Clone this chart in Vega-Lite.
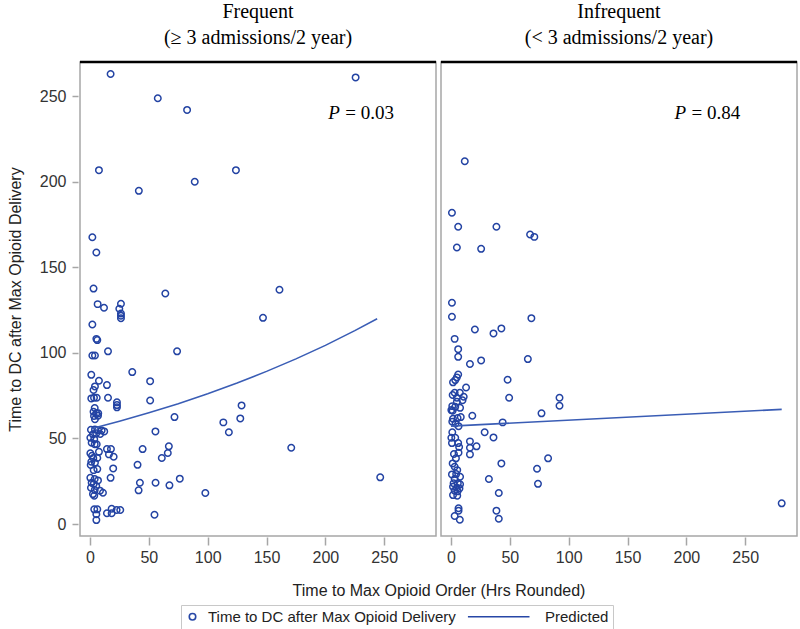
{
"$schema": "https://vega.github.io/schema/vega-lite/v6.json",
"padding": {"left": 7, "top": 2, "right": 3, "bottom": 0},
"data": {"values": [
{"g":"F","k":"obs","x":17.5,"y":263},{"g":"F","k":"obs","x":57.6,"y":248.8},{"g":"F","k":"obs","x":82.5,"y":242},{"g":"F","k":"obs","x":7.6,"y":206.8},{"g":"F","k":"obs","x":124,"y":206.8},{"g":"F","k":"obs","x":89,"y":200},{"g":"F","k":"obs","x":41.5,"y":194.7},{"g":"F","k":"obs","x":2,"y":167.6},{"g":"F","k":"obs","x":5.4,"y":158.7},{"g":"F","k":"obs","x":3,"y":137.6},{"g":"F","k":"obs","x":64,"y":134.7},{"g":"F","k":"obs","x":225.7,"y":261},{"g":"F","k":"obs","x":161,"y":136.9},{"g":"F","k":"obs","x":147,"y":120.5},{"g":"F","k":"obs","x":171,"y":44.6},{"g":"F","k":"obs","x":246.6,"y":27.3},{"g":"F","k":"obs","x":6.5,"y":128.5},{"g":"F","k":"obs","x":11.9,"y":126.4},{"g":"F","k":"obs","x":26.3,"y":128.7},{"g":"F","k":"obs","x":24.9,"y":125.8},{"g":"F","k":"obs","x":26.3,"y":123},{"g":"F","k":"obs","x":26.3,"y":121.7},{"g":"F","k":"obs","x":26.3,"y":120.3},{"g":"F","k":"obs","x":2,"y":116.6},{"g":"F","k":"obs","x":5.4,"y":108.2},{"g":"F","k":"obs","x":6.2,"y":107.5},{"g":"F","k":"obs","x":2,"y":98.5},{"g":"F","k":"obs","x":4.2,"y":98.5},{"g":"F","k":"obs","x":15.3,"y":100.9},{"g":"F","k":"obs","x":74,"y":100.9},{"g":"F","k":"obs","x":35.9,"y":88.8},{"g":"F","k":"obs","x":1.1,"y":87.2},{"g":"F","k":"obs","x":51.1,"y":83.5},{"g":"F","k":"obs","x":7.6,"y":83.7},{"g":"F","k":"obs","x":14.4,"y":81.2},{"g":"F","k":"obs","x":4.2,"y":80.4},{"g":"F","k":"obs","x":3,"y":78.3},{"g":"F","k":"obs","x":1.1,"y":73.4},{"g":"F","k":"obs","x":3.4,"y":73.8},{"g":"F","k":"obs","x":5.7,"y":73.8},{"g":"F","k":"obs","x":15.3,"y":73.8},{"g":"F","k":"obs","x":51.1,"y":72.2},{"g":"F","k":"obs","x":22.9,"y":71.1},{"g":"F","k":"obs","x":22.9,"y":69.5},{"g":"F","k":"obs","x":22.9,"y":68.2},{"g":"F","k":"obs","x":4,"y":67.8},{"g":"F","k":"obs","x":3,"y":65.6},{"g":"F","k":"obs","x":5.4,"y":64.7},{"g":"F","k":"obs","x":7,"y":64.7},{"g":"F","k":"obs","x":3.4,"y":63.1},{"g":"F","k":"obs","x":6.8,"y":63.3},{"g":"F","k":"obs","x":4.2,"y":61.2},{"g":"F","k":"obs","x":71.8,"y":62.5},{"g":"F","k":"obs","x":128.8,"y":69.3},{"g":"F","k":"obs","x":127.7,"y":61.7},{"g":"F","k":"obs","x":113.3,"y":59.4},{"g":"F","k":"obs","x":118,"y":53.6},{"g":"F","k":"obs","x":55.6,"y":54.1},{"g":"F","k":"obs","x":0.8,"y":55.1},{"g":"F","k":"obs","x":4.2,"y":55.3},{"g":"F","k":"obs","x":6.8,"y":54.9},{"g":"F","k":"obs","x":9.9,"y":54.7},{"g":"F","k":"obs","x":12.1,"y":54.1},{"g":"F","k":"obs","x":8.7,"y":52.6},{"g":"F","k":"obs","x":5.3,"y":53},{"g":"F","k":"obs","x":2.5,"y":52.4},{"g":"F","k":"obs","x":0.3,"y":50.4},{"g":"F","k":"obs","x":3.6,"y":49.6},{"g":"F","k":"obs","x":1.4,"y":47.5},{"g":"F","k":"obs","x":4,"y":46.6},{"g":"F","k":"obs","x":5.7,"y":46.6},{"g":"F","k":"obs","x":14.4,"y":43.8},{"g":"F","k":"obs","x":17.8,"y":43.8},{"g":"F","k":"obs","x":16.1,"y":40.7},{"g":"F","k":"obs","x":20.1,"y":39.3},{"g":"F","k":"obs","x":7.6,"y":42.2},{"g":"F","k":"obs","x":44.7,"y":43.8},{"g":"F","k":"obs","x":67,"y":45.4},{"g":"F","k":"obs","x":66.1,"y":41.5},{"g":"F","k":"obs","x":61,"y":38.6},{"g":"F","k":"obs","x":0.3,"y":41.3},{"g":"F","k":"obs","x":1.7,"y":39.9},{"g":"F","k":"obs","x":2.8,"y":38.6},{"g":"F","k":"obs","x":6.2,"y":38.6},{"g":"F","k":"obs","x":1.1,"y":36.4},{"g":"F","k":"obs","x":4.2,"y":35.8},{"g":"F","k":"obs","x":0.6,"y":34.5},{"g":"F","k":"obs","x":6.2,"y":32.1},{"g":"F","k":"obs","x":3.1,"y":31.5},{"g":"F","k":"obs","x":40.4,"y":34.6},{"g":"F","k":"obs","x":19.7,"y":32.5},{"g":"F","k":"obs","x":17.5,"y":27},{"g":"F","k":"obs","x":0.3,"y":27},{"g":"F","k":"obs","x":4,"y":26.3},{"g":"F","k":"obs","x":6.8,"y":25.5},{"g":"F","k":"obs","x":1.4,"y":24.1},{"g":"F","k":"obs","x":3.1,"y":23.4},{"g":"F","k":"obs","x":5.3,"y":22.2},{"g":"F","k":"obs","x":0.8,"y":21.2},{"g":"F","k":"obs","x":4,"y":19.9},{"g":"F","k":"obs","x":8.5,"y":19.5},{"g":"F","k":"obs","x":11,"y":18.3},{"g":"F","k":"obs","x":2.5,"y":17.5},{"g":"F","k":"obs","x":3.6,"y":16.5},{"g":"F","k":"obs","x":42.4,"y":24.1},{"g":"F","k":"obs","x":41.3,"y":19.7},{"g":"F","k":"obs","x":55.7,"y":24.1},{"g":"F","k":"obs","x":67.5,"y":22.6},{"g":"F","k":"obs","x":76.3,"y":26.5},{"g":"F","k":"obs","x":98,"y":18.1},{"g":"F","k":"obs","x":3.6,"y":8.6},{"g":"F","k":"obs","x":6.2,"y":8.6},{"g":"F","k":"obs","x":5.4,"y":5.7},{"g":"F","k":"obs","x":5.4,"y":2.3},{"g":"F","k":"obs","x":14.4,"y":6.3},{"g":"F","k":"obs","x":18.4,"y":8.9},{"g":"F","k":"obs","x":18.4,"y":6.3},{"g":"F","k":"obs","x":22.6,"y":8.2},{"g":"F","k":"obs","x":25.7,"y":8.2},{"g":"F","k":"obs","x":54.8,"y":5.4},
{"g":"I","k":"obs","x":11.7,"y":212},{"g":"I","k":"obs","x":0.8,"y":181.9},{"g":"I","k":"obs","x":6.1,"y":173.7},{"g":"I","k":"obs","x":38.6,"y":173.7},{"g":"I","k":"obs","x":67.2,"y":169.2},{"g":"I","k":"obs","x":70.8,"y":167.8},{"g":"I","k":"obs","x":5,"y":161.6},{"g":"I","k":"obs","x":25.6,"y":160.8},{"g":"I","k":"obs","x":0.8,"y":129.3},{"g":"I","k":"obs","x":0.8,"y":121.1},{"g":"I","k":"obs","x":68.3,"y":120.3},{"g":"I","k":"obs","x":20.3,"y":113.7},{"g":"I","k":"obs","x":36.1,"y":111.4},{"g":"I","k":"obs","x":42.8,"y":114.3},{"g":"I","k":"obs","x":3.1,"y":108.2},{"g":"I","k":"obs","x":6.1,"y":102.2},{"g":"I","k":"obs","x":6.1,"y":97.7},{"g":"I","k":"obs","x":16.1,"y":93.5},{"g":"I","k":"obs","x":25.6,"y":95.6},{"g":"I","k":"obs","x":65.3,"y":96.4},{"g":"I","k":"obs","x":6.1,"y":87.4},{"g":"I","k":"obs","x":5,"y":85.7},{"g":"I","k":"obs","x":3.6,"y":84.1},{"g":"I","k":"obs","x":1.7,"y":82.8},{"g":"I","k":"obs","x":48.1,"y":84.3},{"g":"I","k":"obs","x":12.8,"y":79.8},{"g":"I","k":"obs","x":3.1,"y":76.7},{"g":"I","k":"obs","x":7.5,"y":76.7},{"g":"I","k":"obs","x":1.4,"y":75.4},{"g":"I","k":"obs","x":10.8,"y":74.4},{"g":"I","k":"obs","x":5,"y":73.8},{"g":"I","k":"obs","x":9.8,"y":72.3},{"g":"I","k":"obs","x":5,"y":71.4},{"g":"I","k":"obs","x":49.4,"y":73.8},{"g":"I","k":"obs","x":92.2,"y":73.8},{"g":"I","k":"obs","x":92.2,"y":69.1},{"g":"I","k":"obs","x":1.1,"y":68.9},{"g":"I","k":"obs","x":3.6,"y":68.5},{"g":"I","k":"obs","x":7.7,"y":67.9},{"g":"I","k":"obs","x":0.3,"y":66.6},{"g":"I","k":"obs","x":1.4,"y":66.2},{"g":"I","k":"obs","x":76.9,"y":64.7},{"g":"I","k":"obs","x":18.1,"y":63.3},{"g":"I","k":"obs","x":8.3,"y":62.5},{"g":"I","k":"obs","x":5.6,"y":61.9},{"g":"I","k":"obs","x":1.7,"y":61.5},{"g":"I","k":"obs","x":1.1,"y":59.8},{"g":"I","k":"obs","x":3.9,"y":58.8},{"g":"I","k":"obs","x":6.4,"y":57.2},{"g":"I","k":"obs","x":43.9,"y":59.4},{"g":"I","k":"obs","x":28.6,"y":53.6},{"g":"I","k":"obs","x":36.1,"y":50.6},{"g":"I","k":"obs","x":1.1,"y":53.6},{"g":"I","k":"obs","x":0.3,"y":50.4},{"g":"I","k":"obs","x":3.6,"y":50.4},{"g":"I","k":"obs","x":0.8,"y":47.3},{"g":"I","k":"obs","x":6.1,"y":47.3},{"g":"I","k":"obs","x":6.9,"y":45},{"g":"I","k":"obs","x":16.1,"y":48.3},{"g":"I","k":"obs","x":16.1,"y":44.6},{"g":"I","k":"obs","x":21.7,"y":45.4},{"g":"I","k":"obs","x":6.4,"y":41.7},{"g":"I","k":"obs","x":16.1,"y":40.7},{"g":"I","k":"obs","x":2.5,"y":40.9},{"g":"I","k":"obs","x":4.2,"y":38.4},{"g":"I","k":"obs","x":82.5,"y":38.4},{"g":"I","k":"obs","x":42.8,"y":35.4},{"g":"I","k":"obs","x":73.1,"y":32.3},{"g":"I","k":"obs","x":1.4,"y":35.4},{"g":"I","k":"obs","x":3.1,"y":33.5},{"g":"I","k":"obs","x":5.3,"y":31.5},{"g":"I","k":"obs","x":0.8,"y":29},{"g":"I","k":"obs","x":4.4,"y":29.2},{"g":"I","k":"obs","x":7.7,"y":27.6},{"g":"I","k":"obs","x":3.1,"y":26.3},{"g":"I","k":"obs","x":32.2,"y":26.3},{"g":"I","k":"obs","x":73.9,"y":23.5},{"g":"I","k":"obs","x":2.2,"y":23.8},{"g":"I","k":"obs","x":5.8,"y":23.8},{"g":"I","k":"obs","x":7.7,"y":23.2},{"g":"I","k":"obs","x":1.7,"y":21.8},{"g":"I","k":"obs","x":5,"y":21.2},{"g":"I","k":"obs","x":7.2,"y":20.8},{"g":"I","k":"obs","x":3.1,"y":19.5},{"g":"I","k":"obs","x":5.6,"y":19.1},{"g":"I","k":"obs","x":1.7,"y":16.9},{"g":"I","k":"obs","x":5.3,"y":16.5},{"g":"I","k":"obs","x":40.6,"y":18.1},{"g":"I","k":"obs","x":6.4,"y":9.2},{"g":"I","k":"obs","x":6.4,"y":7.8},{"g":"I","k":"obs","x":3.1,"y":4.7},{"g":"I","k":"obs","x":7.5,"y":2.5},{"g":"I","k":"obs","x":38.6,"y":7.8},{"g":"I","k":"obs","x":40.6,"y":3.1},{"g":"I","k":"obs","x":281,"y":12.1},
{"g":"F","k":"pred","x":1,"y":55.7},{"g":"F","k":"pred","x":25,"y":60.1},{"g":"F","k":"pred","x":50,"y":65},{"g":"F","k":"pred","x":75,"y":70.3},{"g":"F","k":"pred","x":100,"y":76.1},{"g":"F","k":"pred","x":125,"y":82.4},{"g":"F","k":"pred","x":150,"y":89.2},{"g":"F","k":"pred","x":175,"y":96.5},{"g":"F","k":"pred","x":200,"y":104.4},{"g":"F","k":"pred","x":225,"y":113},{"g":"F","k":"pred","x":244,"y":120},
{"g":"I","k":"pred","x":0,"y":57.2},{"g":"I","k":"pred","x":281,"y":67},
{"g":"F","k":"p","x":202.5,"y":240,"t":"= 0.03"},{"g":"I","k":"p","x":190,"y":240,"t":"= 0.84"}
]},
"facet": {"column": {"field": "g", "type": "nominal", "title": "Time to Max Opioid Order (Hrs Rounded)",
  "header": {"titleOrient": "bottom", "labelOrient": "top",
    "labelExpr": "datum.value == 'F' ? ['Frequent', '(≥ 3 admissions/2 year)'] : ['Infrequent', '(< 3 admissions/2 year)']",
    "labelFont": "Liberation Serif", "labelFontSize": 20, "labelLineHeight": 26, "labelColor": "#000", "labelPadding": 12,
    "titleFont": "Liberation Sans", "titleFontSize": 16, "titleFontWeight": "normal", "titleColor": "#222", "titlePadding": 8}}},
"spacing": 1,
"spec": {
  "width": 356, "height": 474,
  "layer": [
    {"mark": {"type": "point", "filled": false, "color": "#2343a3", "strokeWidth": 1.5, "opacity": 1, "size": 42},
     "transform": [{"filter": "datum.k == 'obs'"}],
     "encoding": {
       "x": {"field": "x", "type": "quantitative", "scale": {"domain": [-8.5, 294], "nice": false, "zero": false}, "axis": {"values": [0,50,100,150,200,250], "title": null}},
       "y": {"field": "y", "type": "quantitative", "scale": {"domain": [-7, 270], "nice": false, "zero": false}, "axis": {"values": [0,50,100,150,200,250], "title": "Time to DC after Max Opioid Delivery"}},
       "shape": {"field": "k", "type": "nominal", "scale": {"domain": ["obs", "pred"], "range": ["circle", "M0,0L-19,0"]},
         "legend": {"title": null, "orient": "none", "legendX": 101, "legendY": 543, "direction": "horizontal", "symbolSize": 42,
           "labelExpr": "datum.value == 'obs' ? 'Time to DC after Max Opioid Delivery' : 'Predicted'"}}
     }},
    {"mark": {"type": "line", "color": "#3a5db5", "strokeWidth": 1.6},
     "transform": [{"filter": "datum.k == 'pred'"}],
     "encoding": {"x": {"field": "x", "type": "quantitative"}, "y": {"field": "y", "type": "quantitative"}}},
    {"mark": {"type": "rule", "color": "#000", "strokeWidth": 2.5},
     "transform": [{"filter": "datum.k == 'p'"}],
     "encoding": {"y": {"datum": 270}}},
    {"mark": {"type": "text", "font": "Liberation Serif", "fontSize": 19, "fontStyle": "italic", "align": "left", "baseline": "middle", "color": "#000"},
     "transform": [{"filter": "datum.k == 'p'"}],
     "encoding": {"x": {"field": "x", "type": "quantitative"}, "y": {"field": "y", "type": "quantitative"}, "text": {"value": "P"}}},
    {"mark": {"type": "text", "font": "Liberation Serif", "fontSize": 19, "align": "left", "baseline": "middle", "color": "#000", "dx": 17},
     "transform": [{"filter": "datum.k == 'p'"}],
     "encoding": {"x": {"field": "x", "type": "quantitative"}, "y": {"field": "y", "type": "quantitative"}, "text": {"field": "t"}}}
  ]
},
"config": {
  "view": {"stroke": "#a6a6a6", "strokeWidth": 1.5},
  "font": "Liberation Sans",
  "axis": {"domain": false, "grid": false, "tickColor": "#a6a6a6", "tickWidth": 1.5, "labelFont": "Liberation Sans", "labelFontSize": 16, "labelColor": "#333", "titleFont": "Liberation Sans", "titleFontSize": 16, "titleFontWeight": "normal", "titleColor": "#222"},
  "axisX": {"tickSize": 8, "labelPadding": 4},
  "axisY": {"tickSize": 6, "labelPadding": 6, "titlePadding": 16},
  "legend": {"labelFont": "Liberation Sans", "labelFontSize": 15, "labelColor": "#222", "labelLimit": 500, "strokeColor": "#c8c8c8", "padding": 4, "columnPadding": 8, "labelOffset": 8, "symbolStrokeWidth": 1.6, "symbolStrokeColor": "#2747a6", "symbolFillColor": "transparent"}
}
}
